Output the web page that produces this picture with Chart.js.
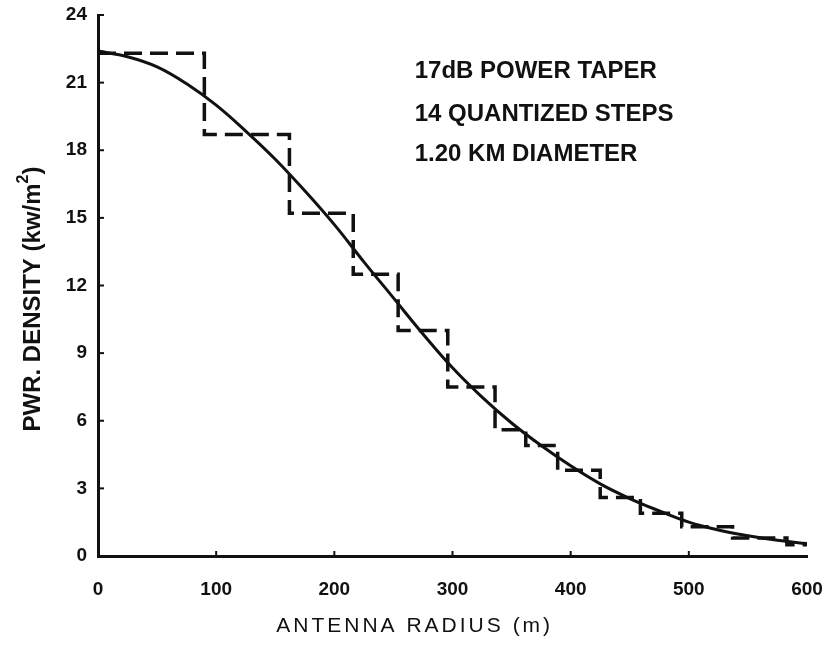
<!DOCTYPE html>
<html>
<head>
<meta charset="utf-8">
<script src="https://cdn.jsdelivr.net/npm/chart.js@4.4.1/dist/chart.umd.min.js"></script>
<style>
  body { margin: 0; background: #fff; }
  canvas { display: block; }
</style>
</head>
<body>
<canvas id="taperChart" width="829" height="646"></canvas>
<script>
// smooth taper curve
const radius = [0, 25, 50, 75, 100, 125, 150, 175, 200, 225, 250, 275, 300, 325, 350, 375, 400, 425, 450, 475, 500, 525, 550, 575, 600];
const density = [22.4, 22.15, 21.7, 20.95, 20.0, 18.85, 17.6, 16.2, 14.7, 13.05, 11.45, 9.85, 8.35, 7.05, 5.9, 4.9, 4.0, 3.2, 2.55, 2.0, 1.5, 1.15, 0.9, 0.7, 0.55];

// 14 quantized steps: edges (m) and levels (kw/m2)
const stepEdges = [0, 90, 162, 216, 254, 296, 336, 362, 389, 425, 459, 494, 537, 583, 600];
const stepLevels = [22.3, 18.7, 15.2, 12.5, 10.0, 7.5, 5.6, 4.9, 3.8, 2.6, 1.9, 1.3, 0.8, 0.5];

const xTicks = [0, 100, 200, 300, 400, 500, 600];
const yTicks = [0, 3, 6, 9, 12, 15, 18, 21, 24];

const notes = ["17dB POWER TAPER", "14 QUANTIZED STEPS", "1.20 KM DIAMETER"];

const INK = "#111";

const curvePoints = radius.map((r, i) => ({ x: r, y: density[i] }));
const stepPoints = stepLevels.map((lv, i) => ({ x: stepEdges[i], y: lv }));
stepPoints.push({ x: stepEdges[stepEdges.length - 1], y: stepLevels[stepLevels.length - 1] });

// inner tick marks, axis titles and the note block
const decorations = {
  id: "decorations",
  afterDatasetsDraw(chart) {
    const { ctx, scales: { x, y } } = chart;
    ctx.save();
    ctx.strokeStyle = INK;
    ctx.fillStyle = INK;
    ctx.lineWidth = 2;
    yTicks.forEach((v) => {
      const py = y.getPixelForValue(v);
      ctx.beginPath();
      ctx.moveTo(x.left, py);
      ctx.lineTo(x.left + 6, py);
      ctx.stroke();
    });
    xTicks.slice(1, -1).forEach((v) => {
      const px = x.getPixelForValue(v);
      ctx.beginPath();
      ctx.moveTo(px, y.bottom);
      ctx.lineTo(px, y.bottom - 5);
      ctx.stroke();
    });

    // notes
    ctx.font = "bold 24px 'Liberation Sans', Arial, sans-serif";
    ctx.textBaseline = "middle";
    ctx.textAlign = "left";
    const noteX = x.getPixelForValue(268);
    [21.5, 19.6, 17.8].forEach((v, i) => {
      ctx.fillText(notes[i], noteX, y.getPixelForValue(v));
    });

    // x title
    ctx.font = "21px 'Liberation Sans', Arial, sans-serif";
    ctx.letterSpacing = "3px";
    ctx.textAlign = "center";
    ctx.fillText("ANTENNA RADIUS (m)", x.getPixelForValue(268), 626);
    ctx.letterSpacing = "0px";

    // y title, rotated, with raised 2
    ctx.translate(33, y.getPixelForValue(11.4));
    ctx.rotate(-Math.PI / 2);
    ctx.textAlign = "left";
    const main = "PWR. DENSITY (kw/m";
    ctx.font = "bold 24px 'Liberation Sans', Arial, sans-serif";
    const wMain = ctx.measureText(main).width;
    ctx.font = "bold 16px 'Liberation Sans', Arial, sans-serif";
    const wSup = ctx.measureText("2").width;
    ctx.font = "bold 24px 'Liberation Sans', Arial, sans-serif";
    const wClose = ctx.measureText(")").width;
    let start = -(wMain + wSup + wClose) / 2;
    ctx.fillText(main, start, 0);
    ctx.font = "bold 16px 'Liberation Sans', Arial, sans-serif";
    ctx.fillText("2", start + wMain, -9);
    ctx.font = "bold 24px 'Liberation Sans', Arial, sans-serif";
    ctx.fillText(")", start + wMain + wSup, 0);
    ctx.restore();
  },
};

const tickFont = { family: "'Liberation Sans', Arial, sans-serif", size: 19, weight: "bold" };

new Chart(document.getElementById("taperChart"), {
  type: "scatter",
  data: {
    datasets: [
      {
        label: "Power taper",
        data: curvePoints,
        showLine: true,
        borderColor: INK,
        borderWidth: 3,
        pointRadius: 0,
        tension: 0.4,
      },
      {
        label: "Quantized steps",
        data: stepPoints,
        showLine: true,
        stepped: "before",
        borderColor: INK,
        borderWidth: 3.5,
        borderDash: [18, 8],
        pointRadius: 0,
      },
    ],
  },
  options: {
    responsive: false,
    devicePixelRatio: 1,
    animation: false,
    layout: { padding: { top: 15, right: 22, left: 0, bottom: 0 } },
    plugins: {
      legend: { display: false },
      tooltip: { enabled: false },
    },
    scales: {
      x: {
        type: "linear",
        min: 0,
        max: 600,
        afterBuildTicks: (scale) => { scale.ticks = xTicks.map((v) => ({ value: v })); },
        afterFit: (scale) => {
          scale.height = 90;
          scale.paddingLeft = 0;
          scale.paddingRight = 0;
        },
        grid: { drawOnChartArea: false, drawTicks: false },
        border: { display: true, color: INK, width: 3 },
        ticks: { color: INK, font: tickFont, padding: 22, maxRotation: 0 },
      },
      y: {
        type: "linear",
        min: 0,
        max: 24,
        afterBuildTicks: (scale) => { scale.ticks = yTicks.map((v) => ({ value: v })); },
        afterFit: (scale) => {
          scale.width = 98;
          scale.paddingTop = 0;
          scale.paddingBottom = 0;
        },
        grid: { drawOnChartArea: false, drawTicks: false },
        border: { display: true, color: INK, width: 3 },
        ticks: { color: INK, font: tickFont, padding: 11 },
      },
    },
  },
  plugins: [decorations],
});
</script>
</body>
</html>
